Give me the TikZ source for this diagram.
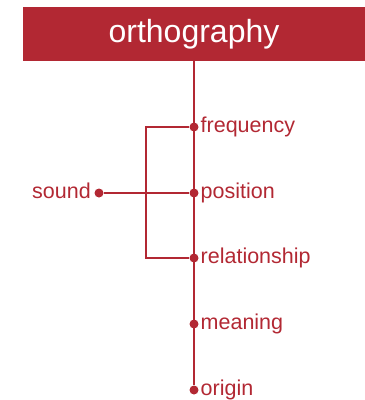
\documentclass[tikz,border=0pt]{standalone}
\usepackage{fontspec}
\setmainfont{Liberation Sans}
\usepackage{xcolor}
\usepackage{tikz}
\definecolor{orthored}{HTML}{B22833}

\begin{document}
\begin{tikzpicture}[x=1pt, y=-1pt,
    dot/.style={circle, fill=orthored, inner sep=0pt, minimum size=9pt},
    rotulo/.style={text=orthored, font=\fontsize{21.5}{24}\selectfont, inner sep=0pt},
    linha/.style={draw=orthored, line width=2.3pt}]
    \useasboundingbox (0,0) rectangle (365,400);

    % Caixa do titulo
    \node[fill=orthored, minimum width=342pt, minimum height=54pt, inner sep=0pt,
          text=white, font=\fontsize{32}{36}\selectfont] (ortho) at (194,34) {orthography};

    % Pontos no eixo
    \node[dot] (dfreq) at (194,127) {};
    \node[dot] (dpos) at (194,193) {};
    \node[dot] (drel) at (194,258) {};
    \node[dot] (dmean) at (194,324) {};
    \node[dot] (dorig) at (194,390) {};
    \node[dot] (dsound) at (99,193) {};
    \coordinate (brk) at (146,127);

    % Linhas
    \draw[linha] (ortho.south) -- (dorig);
    \draw[linha] (dsound) -- (dpos);
    \draw[linha] (dfreq) -- (brk) |- (drel);

    % Rotulos
    \node[rotulo, anchor=base west] (lfreq) at ([xshift=6.5pt, yshift=-5.5pt]dfreq) {frequency};
    \node[rotulo, anchor=base west] (lpos) at ([xshift=6.5pt, yshift=-5.5pt]dpos) {position};
    \node[rotulo, anchor=base west] (lrel) at ([xshift=6.5pt, yshift=-5.5pt]drel) {relationship};
    \node[rotulo, anchor=base west] (lmean) at ([xshift=6.5pt, yshift=-5.5pt]dmean) {meaning};
    \node[rotulo, anchor=base west] (lorig) at ([xshift=6.5pt, yshift=-5.5pt]dorig) {origin};
    \node[rotulo, anchor=base east] (lsound) at ([xshift=-8pt, yshift=-5.5pt]dsound) {sound};
\end{tikzpicture}
\end{document}
